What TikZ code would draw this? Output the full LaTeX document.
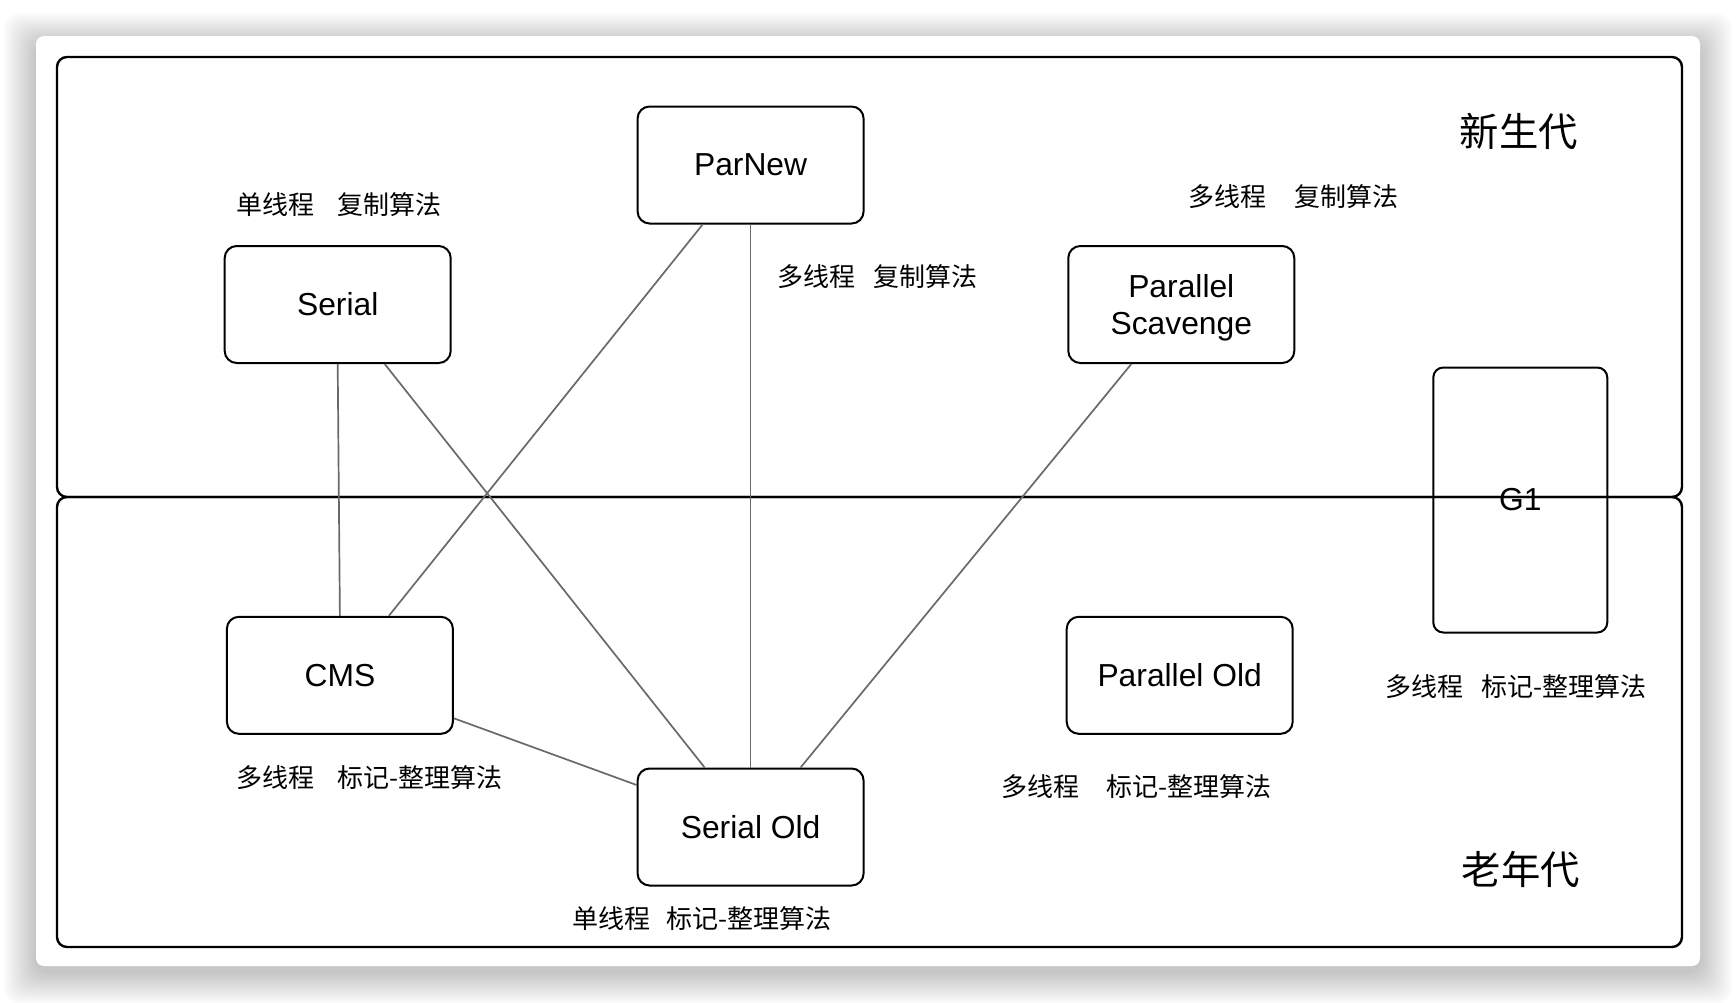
\documentclass[tikz,border=0pt]{standalone}
\usepackage{fontspec}
\setmainfont{Liberation Sans}
\newfontfamily\cjk{Noto Sans CJK SC}
\usetikzlibrary{calc}
\definecolor{linkgray}{HTML}{696969}

\tikzset{
  gcbox/.style={draw, line width=1pt, rounded corners=6pt, minimum width=113pt,
    minimum height=58.5pt, align=center, inner sep=0pt,
    font=\fontsize{15.9}{18.3}\selectfont},
  note/.style={anchor=west, inner sep=0pt, font=\cjk\fontsize{13}{16}\selectfont},
  genlabel/.style={inner sep=0pt, font=\cjk\fontsize{19.7}{22}\selectfont},
  region/.style={draw, line width=1.2pt, rounded corners=5pt},
  link/.style={draw=linkgray, line width=0.85pt}
}

\begin{document}
\begin{tikzpicture}[x=0.5pt,y=-0.5pt]
	\useasboundingbox (0,0) rectangle (1736,1002);
	\fill[white] (0,0) rectangle (1736,1002);
	% card with soft shadow
	\foreach \i in {1,...,14}
		\fill[black, opacity=0.015, rounded corners=8pt] (36-2.3*\i,44-2.2*\i) rectangle (1700+2.3*\i,972+2.3*\i);
	\fill[white, rounded corners=4pt] (36,36) rectangle (1700,966);
	% young and old generation
	\draw[region] (57,57) rectangle (1682,497);
	\draw[region] (57,497) rectangle (1682,947);
	\node[genlabel] (young) at (1519,131) {新生代};
	\node[genlabel] (old) at (1521,869) {老年代};
	% collectors
	\node[gcbox] (parnew) at (750.6,165) {ParNew};
	\node[gcbox] (serial) at (337.7,304.5) {Serial};
	\node[gcbox] (parscav) at (1181.3,304.5) {\rule{0pt}{15pt}Parallel\\Scavenge};
	\node[gcbox] (cms) at (339.9,675.3) {CMS};
	\node[gcbox] (serialold) at (750.6,827) {Serial Old};
	\node[gcbox] (parold) at (1179.7,675.3) {Parallel Old};
	\node[gcbox, minimum width=87pt, minimum height=132.5pt, rounded corners=5pt] (g1) at (1520.3,500) {G1};
	% notes
	\node[note] (serialnote) at (235.8,204.8) {单线程\hspace{0.9em}复制算法};
	\node[note] (parnewnote) at (777.2,276.8) {多线程\hspace{0.7em}复制算法};
	\node[note] (parscavnote) at (1187.9,197) {多线程\hspace{1.1em}复制算法};
	\node[note] (cmsnote) at (235.8,777.2) {多线程\hspace{0.9em}标记-整理算法};
	\node[note] (serialoldnote) at (572.4,918.9) {单线程\hspace{0.6em}标记-整理算法};
	\node[note] (paroldnote) at (1000.8,787) {多线程\hspace{1.05em}标记-整理算法};
	\node[note] (g1note) at (1385,686.4) {多线程\hspace{0.7em}标记-整理算法};
	% combinations
	\draw[link] (serial.south) -- (cms.north);
	\draw[link] ($(serial.south)+(47,0)$) -- ($(serialold.north)+(-46,0)$);
	\draw[link] ($(parnew.south)+(-48,0)$) -- ($(cms.north)+(49,0)$);
	\draw[link] (parnew.south) -- (serialold.north);
	\draw[link] ($(parscav.south)+(-50,0)$) -- ($(serialold.north)+(50,0)$);
	\draw[link] ($(cms.east)+(0,43)$) -- ($(serialold.west)+(0,-42)$);
\end{tikzpicture}
\end{document}
